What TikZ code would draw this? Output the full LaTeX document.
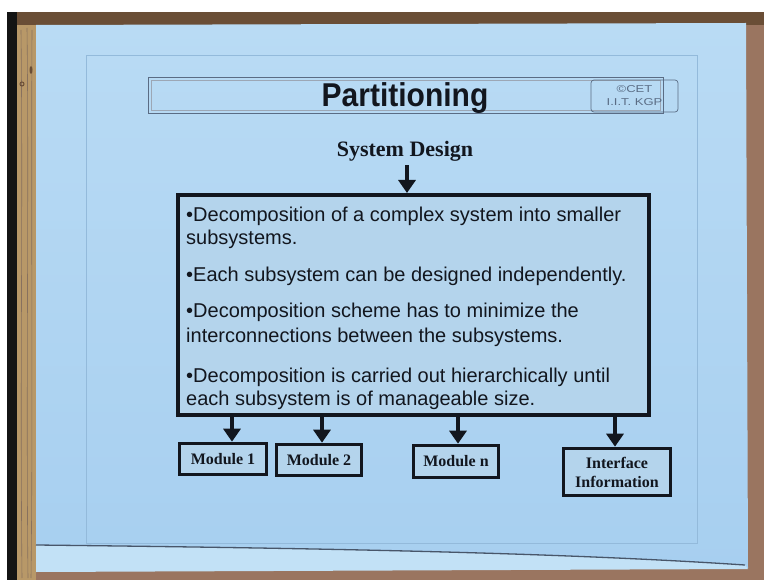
\documentclass[tikz,border=0pt]{standalone}
\usepackage{fontspec}
\setmainfont{Liberation Serif}
\setsansfont{Liberation Sans}
\usetikzlibrary{arrows.meta}

\definecolor{sheet}{HTML}{A7CFF0}
\definecolor{sheettop}{HTML}{B9DBF4}
\definecolor{sheetlow}{HTML}{C2E1F6}
\definecolor{boxfill}{HTML}{B4D4EC}
\definecolor{ink}{HTML}{12161E}
\definecolor{wood}{HTML}{9A7560}
\definecolor{woodlight}{HTML}{B89868}
\definecolor{wooddark}{HTML}{6A4E36}
\definecolor{rulegray}{HTML}{5A6C84}
\definecolor{faint}{HTML}{93BADB}

\begin{document}
\begin{tikzpicture}[x=1pt,y=-1pt,
  framebox/.style={draw=ink, line width=4pt, fill=boxfill},
  modbox/.style={draw=ink, line width=3.6pt, fill=boxfill, text=ink,
    font=\bfseries\fontsize{16}{19}\selectfont, inner sep=0pt, align=center},
  btext/.style={font=\sffamily\fontsize{20}{24}\selectfont, text=ink,
    anchor=base west, inner sep=0pt},
  arr/.style={draw=ink, line width=3.6pt, -{Triangle[width=17pt,length=13pt]}},
  grain/.style={draw=wooddark!80, line width=0.6pt},
]
\useasboundingbox (0,0) rectangle (764,580);

% board and frame around the sheet
\fill[white] (0,0) rectangle (764,580);
\fill[wood] (7,12) rectangle (764,580);
\fill[black!92] (7,12) rectangle (17,580);
\fill[wooddark] (17,12) rectangle (764,25);
\fill[woodlight] (17,25) rectangle (36,580);
\draw[grain] (21,30) .. controls (23,200) and (20,380) .. (22,578);
\draw[grain] (27,28) .. controls (29,180) and (26,400) .. (28,578);
\draw[grain] (32,30) .. controls (31,220) and (33,420) .. (31,578);
\fill[wooddark] (31,70) ellipse (1.5pt and 4pt);
\draw[wooddark, line width=1pt] (22,84) circle (2pt);

% the sheet, with its folded lower edge
\shade[top color=sheettop, bottom color=sheet]
  (36,25) -- (746,23) -- (748,568) -- (36,571) -- cycle;
\fill[sheetlow] (36,545) .. controls (300,548) and (550,552) .. (745,565)
  -- (748,569) -- (36,572) -- cycle;
\draw[rulegray!80!black, line width=1.3pt]
  (36,545) .. controls (300,548) and (550,552) .. (745,565);

% faint page border and title bar
\draw[faint, line width=0.6pt] (86,55) rectangle (697,543);
\draw[rulegray, line width=0.7pt] (148,77) rectangle (663,113);
\draw[rulegray!60, line width=0.5pt] (151,80) rectangle (660,110);

\node[draw=rulegray, line width=0.7pt, rounded corners=3pt, minimum width=87pt,
  minimum height=32pt, inner sep=0pt, align=center, text=rulegray,
  font=\sffamily\fontsize{10}{13}\selectfont] (cet) at (634.5,96)
  {\scalebox{1.3}[1]{©CET}\\\scalebox{1.3}[1]{I.I.T. KGP}};

\node[font=\sffamily\bfseries\fontsize{30}{36}\selectfont, text=ink,
  anchor=base, inner sep=0pt] (title) at (405,107) {\scalebox{1}[1.1]{Partitioning}};

\node[font=\bfseries\fontsize{22}{26}\selectfont, text=ink, anchor=base]
  (sd) at (405,157) {System Design};

% main box with its text
\node[framebox, minimum width=471pt, minimum height=220pt, inner sep=0pt]
  (body) at (413.5,305) {};

\node[btext] (p1a) at (186,222) {•Decomposition of a complex system into smaller};
\node[btext] (p1b) at (186,245) {subsystems.};
\node[btext] (p2)  at (186,282) {•Each subsystem can be designed independently.};
\node[btext] (p3a) at (186,318) {•Decomposition scheme has to minimize the};
\node[btext] (p3b) at (186,343) {interconnections between the subsystems.};
\node[btext] (p4a) at (186,382) {•Decomposition is carried out hierarchically until};
\node[btext] (p4b) at (186,406) {each subsystem is of manageable size.};

% modules
\node[modbox, minimum width=87pt, minimum height=31pt] (m1) at (223,459) {Module 1};
\node[modbox, minimum width=85pt, minimum height=31pt] (m2) at (319,460) {Module 2};
\node[modbox, minimum width=85pt, minimum height=32pt] (mn) at (456,461.5) {Module n};
\node[modbox, minimum width=107pt, minimum height=47pt] (iface) at (617,472)
  {Interface\\Information};

% connectors
\coordinate (c0) at (407,0);
\coordinate (c1) at (232,0);
\coordinate (c2) at (322,0);
\coordinate (c3) at (458,0);
\coordinate (c4) at (615,0);
\draw[arr] (sd.south -| c0) -- (body.north -| c0);
\draw[arr] (body.south -| c1) -- (m1.north -| c1);
\draw[arr] (body.south -| c2) -- (m2.north -| c2);
\draw[arr] (body.south -| c3) -- (mn.north -| c3);
\draw[arr] (body.south -| c4) -- (iface.north -| c4);
\end{tikzpicture}
\end{document}
